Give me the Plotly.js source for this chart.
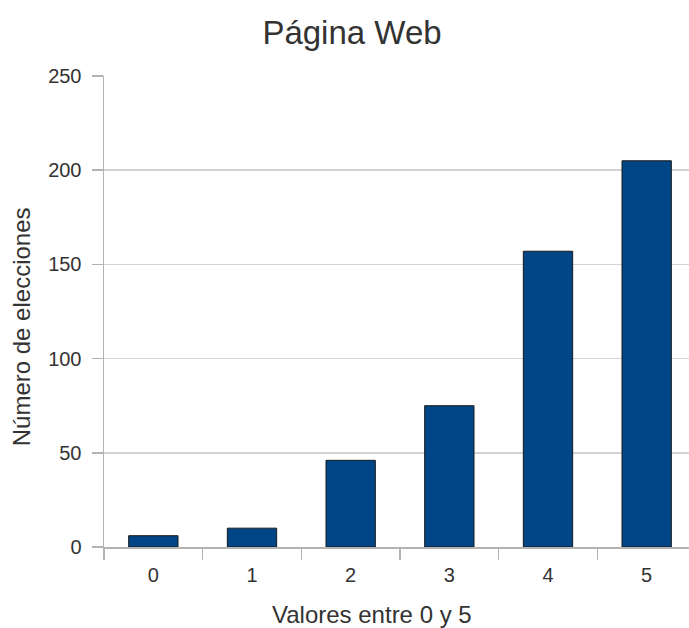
<!DOCTYPE html>
<html>
<head>
<meta charset="utf-8">
<script src="https://cdn.plot.ly/plotly-3.0.1.min.js"></script>
<style>
  html, body { margin: 0; padding: 0; overflow: hidden; background: #fff; }
  #chart { width: 700px; height: 628px; }
</style>
</head>
<body>
<div id="chart"></div>
<script>
const categories = ["0", "1", "2", "3", "4", "5"];
const values = [6, 10, 46, 75, 157, 205];
const yTicks = [0, 50, 100, 150, 200, 250];
const chartTitle = "Página Web";
const xTitle = "Valores entre 0 y 5";
const yTitle = "Número de elecciones";

const trace = {
  type: "bar",
  x: categories,
  y: values,
  marker: { color: "#004586", line: { color: "#1a1a1a", width: 1 } },
  hoverinfo: "x+y"
};

const fam = "Liberation Sans, Arial, sans-serif";
const axisGrey = "#b3b3b3";
const tickFont = { family: fam, size: 20, color: "#333333" };
const titleFont = { family: fam, size: 24, color: "#333333" };

const layout = {
  width: 700,
  height: 628,
  margin: { l: 104, r: 4, t: 76, b: 81 },
  paper_bgcolor: "#ffffff",
  plot_bgcolor: "#ffffff",
  showlegend: false,
  bargap: 0.5,
  font: { family: fam, color: "#333333" },
  title: {
    text: chartTitle,
    font: { family: fam, size: 33, color: "#333333" },
    x: 352 / 700, xref: "container", xanchor: "center",
    y: 1 - 32 / 628, yref: "container", yanchor: "middle"
  },
  xaxis: {
    type: "category",
    tickson: "boundaries",
    ticks: "outside",
    ticklen: 11,
    tickwidth: 1.5,
    tickcolor: axisGrey,
    showline: true,
    linecolor: axisGrey,
    linewidth: 1.5,
    showgrid: false,
    zeroline: false,
    tickfont: tickFont,
    ticklabelstandoff: 9
  },
  yaxis: {
    range: [0, 250],
    tickvals: yTicks,
    ticks: "outside",
    ticklen: 11,
    tickwidth: 1.5,
    tickcolor: axisGrey,
    showline: true,
    linecolor: axisGrey,
    linewidth: 1.5,
    showgrid: true,
    gridcolor: "#d3d3d3",
    gridwidth: 1.5,
    zeroline: false,
    tickfont: tickFont,
    ticklabelstandoff: 6
  },
  annotations: [
    {
      text: xTitle, font: titleFont, showarrow: false,
      xref: "paper", yref: "paper",
      x: (372 - 104) / 592, xanchor: "center",
      y: -(614 - 546.5) / 470.5, yanchor: "middle"
    },
    {
      text: yTitle, font: titleFont, showarrow: false, textangle: -90,
      xref: "paper", yref: "paper",
      x: (21 - 104) / 592, xanchor: "center",
      y: (546.5 - 327) / 470.5, yanchor: "middle"
    }
  ]
};

Plotly.newPlot("chart", [trace], layout, { displayModeBar: false, staticPlot: true });
</script>
</body>
</html>
